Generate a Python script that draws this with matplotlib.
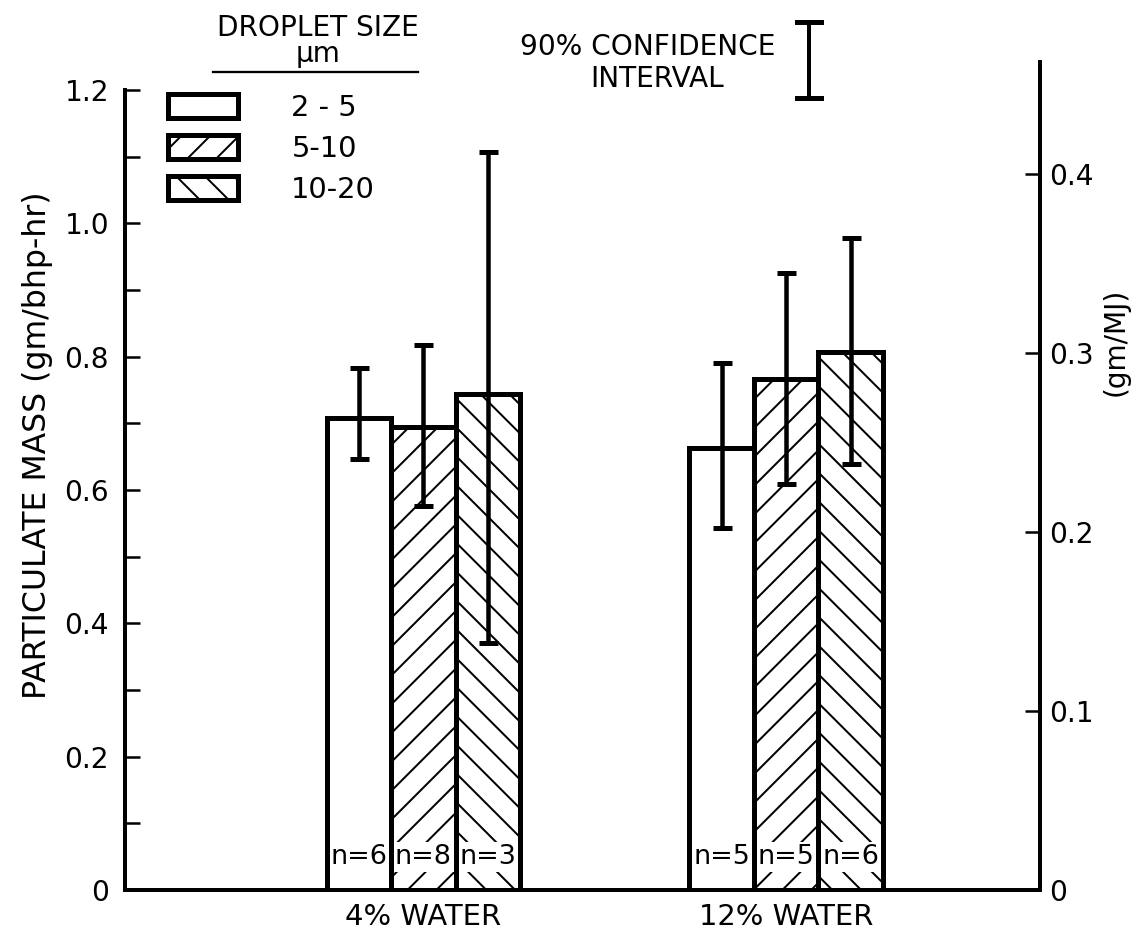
import matplotlib
matplotlib.use('Agg')
import matplotlib.pyplot as plt
from matplotlib.lines import Line2D
import numpy as np

# particulate mass, gm/bhp-hr
groups = ['4% WATER', '12% WATER']
sizes = ['2 - 5', '5-10', '10-20']
hatches = ['', '//', '\\\\']

mass_2_5 = [0.708, 0.663]
mass_5_10 = [0.694, 0.766]
mass_10_20 = [0.744, 0.807]

# 90% confidence interval ends
upper_2_5 = [0.783, 0.790]
upper_5_10 = [0.817, 0.925]
upper_10_20 = [1.107, 0.978]
lower_2_5 = [0.646, 0.543]
lower_5_10 = [0.576, 0.609]
lower_10_20 = [0.370, 0.639]

n_2_5 = [6, 5]
n_5_10 = [8, 5]
n_10_20 = [3, 6]

MJ_PER_BHPHR = 2.6845

W, H = 1137, 931
DPI = 173  # hatch spacing scales with dpi

def pt(pixels):
    # sizes below are given in output pixels
    return pixels * 72 / DPI

def px(x, y):
    return x / W, 1 - y / H

plt.rcParams['font.family'] = ['DejaVu Sans']
plt.rcParams['hatch.linewidth'] = pt(2.0)

fig = plt.figure(figsize=(W / DPI, H / DPI), dpi=DPI)
ax = fig.add_axes([125 / W, (H - 890) / H, (1040 - 125) / W, (890 - 62) / H])
ax2 = ax.twinx()

x = np.arange(len(groups))
bw = 0.178
means = [mass_2_5, mass_5_10, mass_10_20]
uppers = [upper_2_5, upper_5_10, upper_10_20]
lowers = [lower_2_5, lower_5_10, lower_10_20]
counts = [n_2_5, n_5_10, n_10_20]

handles = []
for i in range(3):
    xi = x + (i - 1) * bw
    m = np.array(means[i])
    # hatched fill, then labels, then outline on top
    b = ax.bar(xi, m, bw, color='white', edgecolor='black', linewidth=pt(5),
               hatch=hatches[i], zorder=1)
    handles.append(b)
    ax.bar(xi, m, bw, fill=False, edgecolor='black', linewidth=pt(5), zorder=3)
    err = [m - np.array(lowers[i]), np.array(uppers[i]) - m]
    ax.errorbar(xi, m, yerr=err, fmt='none', ecolor='black', elinewidth=pt(4.5),
                capsize=pt(9.5), capthick=pt(5), zorder=4)
    for xx, n in zip(xi, counts[i]):
        ax.text(xx, 0.05, 'n=%d' % n, ha='center', va='center', fontsize=pt(27),
                zorder=2, bbox=dict(facecolor='white', edgecolor='none', pad=pt(2)))

ax.set_xlim(-0.823, 1.70)
top = 1.2 * (890 - 62) / (890 - 90)
ax.set_ylim(0, top)
ax2.set_ylim(0, top / MJ_PER_BHPHR)

for s in ['top', 'right']:
    ax.spines[s].set_visible(False)
for s in ['top', 'left', 'bottom']:
    ax2.spines[s].set_visible(False)
ax.spines['left'].set_bounds(0, 1.2)
ax.spines['left'].set_linewidth(pt(4))
ax.spines['bottom'].set_linewidth(pt(4))
ax2.spines['right'].set_linewidth(pt(4))

ax.set_yticks([0, 0.2, 0.4, 0.6, 0.8, 1.0, 1.2])
ax.set_yticklabels(['0', '0.2', '0.4', '0.6', '0.8', '1.0', '1.2'])
ax.set_yticks([0.1, 0.3, 0.5, 0.7, 0.9, 1.1], minor=True)
ax.tick_params(axis='y', which='both', direction='in', length=pt(15), width=pt(2.5),
               labelsize=pt(28), pad=pt(16))
ax.set_xticks(x)
ax.set_xticklabels(groups, fontsize=pt(29))
ax.tick_params(axis='x', length=0, pad=pt(12.5))

ax2.set_yticks([0, 0.1, 0.2, 0.3, 0.4])
ax2.set_yticklabels(['0', '0.1', '0.2', '0.3', '0.4'])
ax2.tick_params(axis='y', direction='in', length=pt(15), width=pt(2.5),
                labelsize=pt(28), pad=pt(9))

fig.text(*px(38, 445), 'PARTICULATE MASS (gm/bhp-hr)', rotation=90,
         ha='center', va='center', fontsize=pt(31.5))
fig.text(*px(1116, 342), '(gm/MJ)', rotation=90, ha='center', va='center',
         fontsize=pt(28))

# legend
ax.legend(handles=handles, labels=sizes, loc='upper left',
          bbox_to_anchor=px(168, 94), bbox_transform=fig.transFigure,
          frameon=False, fontsize=pt(29), handlelength=2.4, handleheight=0.87,
          handletextpad=1.85, labelspacing=0.45, borderpad=0, borderaxespad=0)
fig.text(*px(318, 28), 'DROPLET SIZE', ha='center', va='center', fontsize=pt(28))
fig.text(*px(318, 54), 'μm', ha='center', va='center', fontsize=pt(28))
fig.add_artist(Line2D([213 / W, 418 / W], [1 - 72 / H, 1 - 72 / H],
                      color='black', linewidth=pt(2.3)))

# confidence interval key
fig.text(*px(648, 47), '90% CONFIDENCE', ha='center', va='center', fontsize=pt(28))
fig.text(*px(657, 79), 'INTERVAL', ha='center', va='center', fontsize=pt(28))
fig.add_artist(Line2D([809 / W, 809 / W], [1 - 22 / H, 1 - 98 / H],
                      color='black', linewidth=pt(4)))
for yy in [22, 98]:
    fig.add_artist(Line2D([797 / W, 821 / W], [1 - yy / H, 1 - yy / H],
                          color='black', linewidth=pt(5)))

fig.savefig('out.png', dpi=DPI)
